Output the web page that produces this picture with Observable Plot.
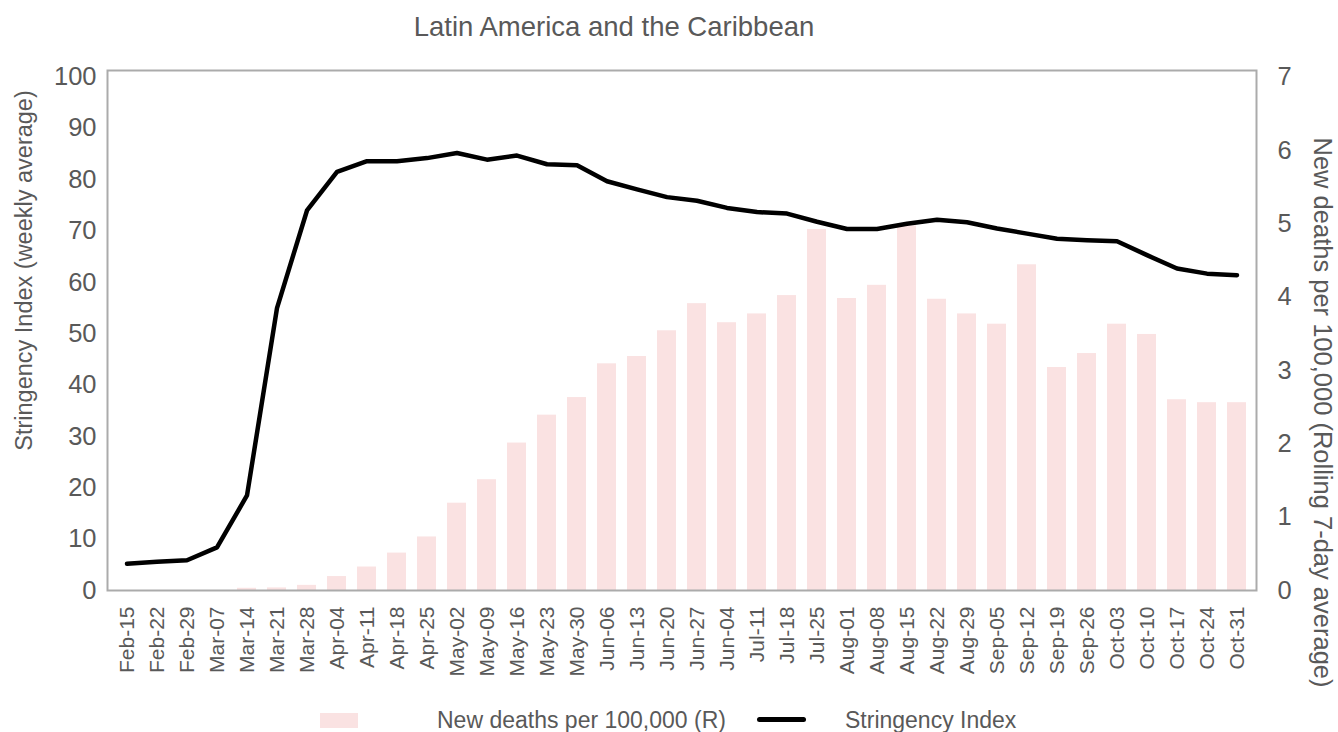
<!DOCTYPE html>
<html>
<head>
<meta charset="utf-8">
<script src="https://cdn.jsdelivr.net/npm/d3@7"></script>
<script src="https://cdn.jsdelivr.net/npm/@observablehq/plot@0.6"></script>
<style>
  html, body { margin: 0; padding: 0; background: #fff; }
  body { width: 1338px; height: 732px; overflow: hidden; font-family: "Liberation Sans", Arial, sans-serif; color: #595959; }
  #title { position: relative; width: 1338px; height: 52px; }
  #title span { position: absolute; left: 614px; top: 12px; transform: translateX(-50%); font-size: 27.5px; line-height: 30px; white-space: nowrap; }
  #chart { width: 1338px; height: 648px; }
  #chart svg { overflow: visible; display: block; }
  #legend { position: relative; width: 1338px; height: 32px; font-size: 23px; }
  #legend .sw-bar { position: absolute; left: 320px; top: 13px; width: 38px; height: 15px; background: #fae2e2; }
  #legend .sw-line { position: absolute; left: 757px; top: 17px; width: 49px; height: 5px; border-radius: 3px; background: #000; }
  #legend .lbl { position: absolute; top: 8px; line-height: 24px; white-space: nowrap; }
</style>
</head>
<body>
<div id="title"><span>Latin America and the Caribbean</span></div>
<div id="chart"></div>
<div id="legend">
  <div class="sw-bar"></div><div class="lbl" style="left:437px">New deaths per 100,000 (R)</div>
  <div class="sw-line"></div><div class="lbl" style="left:845px">Stringency Index</div>
</div>
<script>
// Weekly categories (week starting)
const weeks = ["Feb-15","Feb-22","Feb-29","Mar-07","Mar-14","Mar-21","Mar-28","Apr-04","Apr-11","Apr-18","Apr-25",
  "May-02","May-09","May-16","May-23","May-30","Jun-06","Jun-13","Jun-20","Jun-27","Jun-04","Jul-11","Jul-18","Jul-25",
  "Aug-01","Aug-08","Aug-15","Aug-22","Aug-29","Sep-05","Sep-12","Sep-19","Sep-26","Oct-03","Oct-10","Oct-17","Oct-24","Oct-31"];

// New deaths per 100,000, rolling 7-day average (right axis)
const deaths = [0,0,0,0,0.03,0.035,0.07,0.19,0.32,0.51,0.73,
  1.19,1.51,2.01,2.39,2.63,3.09,3.19,3.54,3.91,3.65,3.77,4.02,4.92,
  3.98,4.16,4.97,3.97,3.77,3.63,4.44,3.04,3.23,3.63,3.49,2.60,2.56,2.56];

// Stringency Index, weekly average (left axis)
const stringency = [5.2,5.6,5.9,8.4,18.5,55,74,81.5,83.6,83.6,84.2,
  85.2,83.9,84.7,83.0,82.8,79.7,78.1,76.6,75.9,74.5,73.7,73.4,71.8,
  70.4,70.4,71.4,72.2,71.7,70.5,69.5,68.5,68.2,68.0,65.3,62.7,61.7,61.4];

const leftTicks = [0,10,20,30,40,50,60,70,80,90,100];
const rightTicks = [0,1,2,3,4,5,6,7];
const leftMax = 100, rightMax = 7;

const leftTitle = "Stringency Index (weekly average)";
const rightTitle = "New deaths per 100,000 (Rolling 7-day average)";

const rows = weeks.map((week, i) => ({week, deaths: deaths[i], stringency: stringency[i]}));
// the right axis shares the left scale: 0–7 is stretched onto 0–100
const toLeft = v => v * leftMax / rightMax;

const textColor = "#595959";

const chart = Plot.plot({
  width: 1338,
  height: 648,
  marginTop: 18,
  marginBottom: 110,
  marginLeft: 107,
  marginRight: 82,
  style: {fontFamily: "'Liberation Sans', Arial, sans-serif", background: "transparent", overflow: "visible"},
  x: {type: "band", domain: weeks, paddingInner: 0.37, paddingOuter: 0.185},
  y: {domain: [0, 101.26]},
  marks: [
    Plot.barY(rows, {x: "week", y: d => toLeft(d.deaths), fill: "#fae2e2"}),
    Plot.line(rows, {x: "week", y: "stringency", stroke: "#000", strokeWidth: 4.5, strokeLinejoin: "round", strokeLinecap: "round"}),
    Plot.frame({stroke: "#ababab", strokeWidth: 2}),
    Plot.axisY({ticks: leftTicks, tickSize: 0, tickPadding: 11, fontSize: 25.5, fill: textColor, label: null}),
    Plot.axisY({anchor: "right", ticks: rightTicks.map(toLeft), tickFormat: d => String(Math.round(d * rightMax / leftMax)),
      tickSize: 0, tickPadding: 21, fontSize: 25.5, fill: textColor, label: null}),
    Plot.axisX({tickRotate: -90, tickSize: 0, tickPadding: 16, fontSize: 21, fill: textColor, label: null}),
    Plot.text([leftTitle], {text: d => d, frameAnchor: "left", textAnchor: "middle", dx: -83, dy: -60, rotate: -90, fontSize: 23.5, fill: textColor}),
    Plot.text([rightTitle], {text: d => d, frameAnchor: "right", textAnchor: "middle", dx: 66, dy: 82, rotate: 90, fontSize: 25.5, fill: textColor})
  ]
});
document.getElementById("chart").appendChild(chart);
</script>
</body>
</html>
